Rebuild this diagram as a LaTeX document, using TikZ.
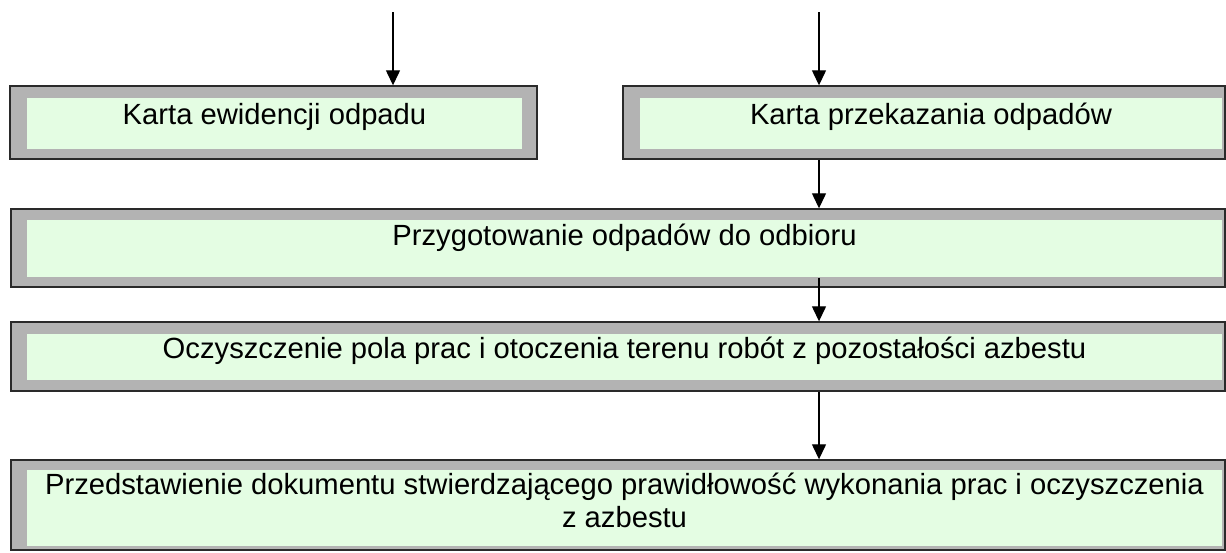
\documentclass[tikz,border=0pt]{standalone}
\usepackage{fontspec}
\setmainfont{Liberation Sans}
\usepackage{tikz}
\usetikzlibrary{arrows.meta}
\usetikzlibrary{positioning}

\definecolor{boxgray}{HTML}{B3B3B3}
\definecolor{boxgreen}{HTML}{E4FDE3}
\definecolor{boxline}{HTML}{2A2A2A}

\newcommand{\mytikzboxfontsize}{\fontsize{29.2}{33}\selectfont}
\newcommand{\grayboxnode}[1][]{\node[rectangle,draw=boxline,fill=boxgray,line width=1.4pt,inner sep=0pt,#1]}
\newcommand{\greenboxnode}[1][]{\node[rectangle,draw=none,fill=boxgreen,inner sep=0pt,#1]}
\newcommand{\boxtextnode}[1][]{\node[draw=none,inner sep=0pt,anchor=base,align=center,font=\mytikzboxfontsize,#1]}

\tikzstyle{mytikzflowoptions}=[
    x=1pt,y=-1pt,
    every path/.append style={>={Triangle[length=15pt,width=14pt]}},
    line width=1.3pt
]
\tikzstyle{flowarrow}=[
    ->,
    draw=black
]

\begin{document}
\begin{tikzpicture}[mytikzflowoptions]
    \useasboundingbox (0,0) rectangle (1226,552);

    % boxes
    \grayboxnode[minimum width=527pt,minimum height=73pt] (ewid) at (273.5,122.5) {};
    \greenboxnode[minimum width=495pt,minimum height=51pt] (ewidin) at (274.5,123.5) {};
    \grayboxnode[minimum width=602pt,minimum height=73pt] (przek) at (924,122.5) {};
    \greenboxnode[minimum width=582pt,minimum height=51pt] (przekin) at (931,123.5) {};

    \grayboxnode[minimum width=1214pt,minimum height=78pt] (przyg) at (618,248) {};
    \greenboxnode[minimum width=1195pt,minimum height=57pt] (przygin) at (624.5,248.5) {};
    \grayboxnode[minimum width=1214pt,minimum height=69pt] (oczysz) at (618,356.5) {};
    \greenboxnode[minimum width=1195pt,minimum height=46pt] (oczyszin) at (624.5,357) {};
    \grayboxnode[minimum width=1214pt,minimum height=90pt] (przedst) at (618,505) {};
    \greenboxnode[minimum width=1195pt,minimum height=76pt] (przedstin) at (624.5,508) {};

    % texts
    \boxtextnode (ewidtxt) at (274.5,124) {Karta ewidencji odpadu};
    \boxtextnode (przektxt) at (931,124) {Karta przekazania odpadów};
    \boxtextnode (przygtxt) at (624.5,245) {Przygotowanie odpadów do odbioru};
    \boxtextnode (oczysztxt) at (624.5,358) {Oczyszczenie pola prac i otoczenia terenu robót z pozostałości azbestu};
    \boxtextnode (przedsttxt) at (624.5,527) {Przedstawienie dokumentu stwierdzającego prawidłowość wykonania prac i oczyszczenia\\ z azbestu};

    % edges
    \coordinate (ewidstart) at (393,12);
    \coordinate (przekstart) at (819,12);
    \draw[flowarrow] (ewidstart) -- (ewid.north -| ewidstart);
    \draw[flowarrow] (przekstart) -- (przek.north -| przekstart);
    \draw[flowarrow] (przek.south -| przekstart) -- (przyg.north -| przekstart);
    \draw[flowarrow] (przygin.south -| przekstart) -- (oczysz.north -| przekstart);
    \draw[flowarrow] (oczysz.south -| przekstart) -- (przedst.north -| przekstart);
\end{tikzpicture}
\end{document}
